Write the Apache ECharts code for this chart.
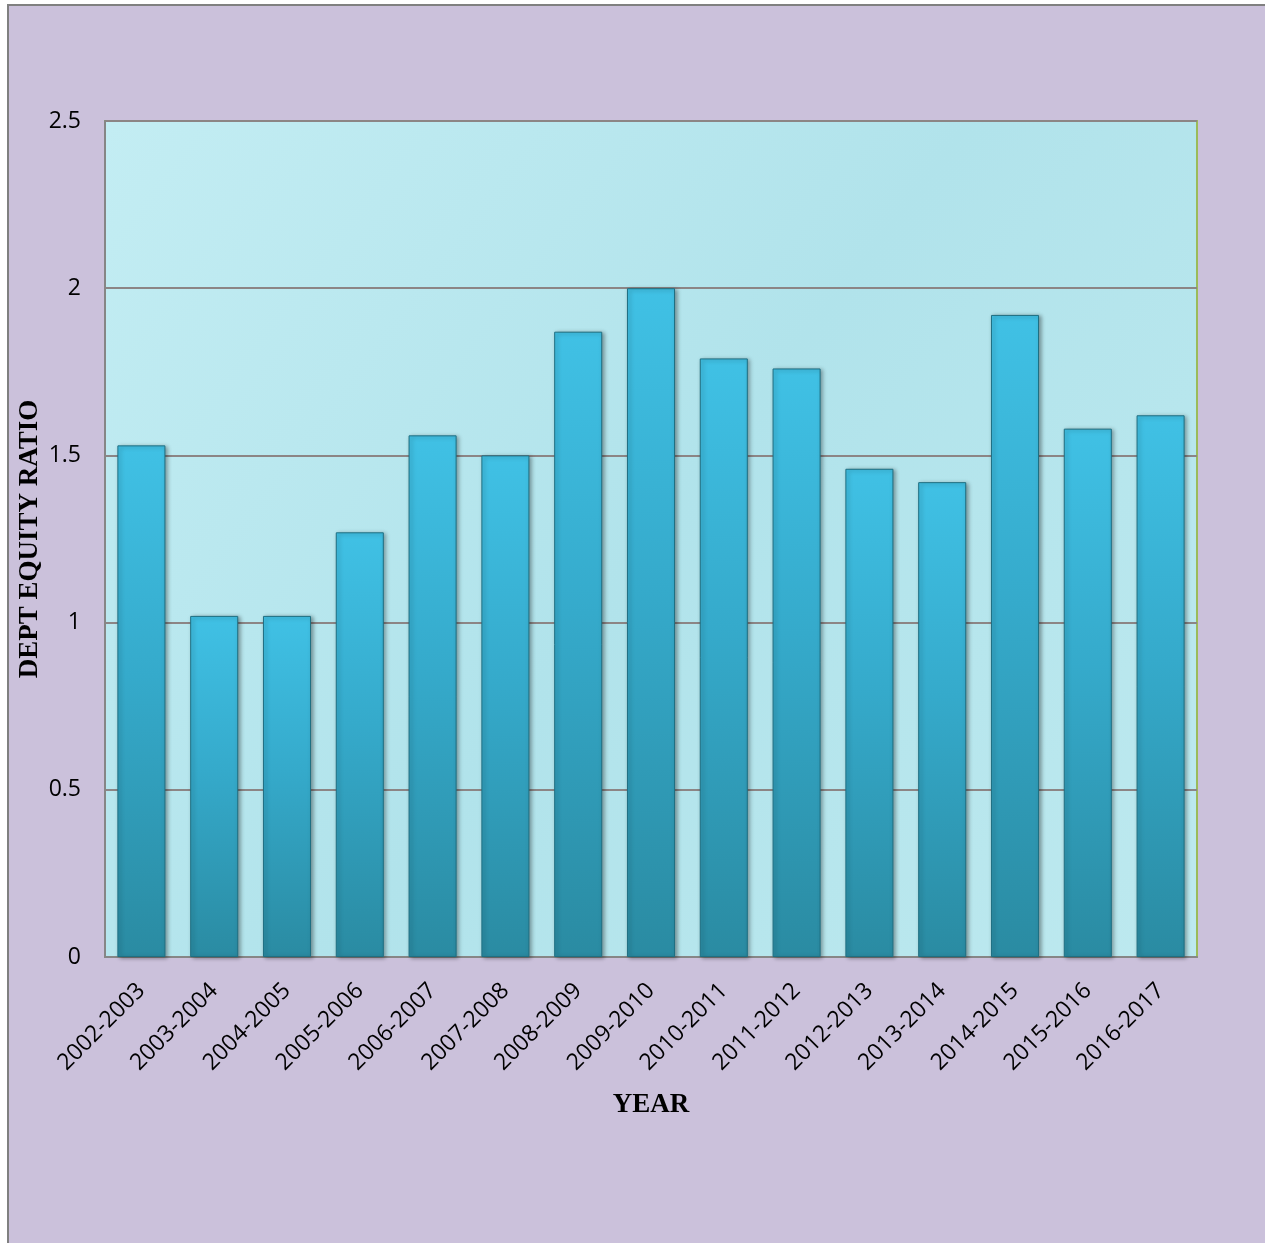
<!DOCTYPE html>
<html>
<head>
<meta charset="utf-8">
<script src="https://cdn.jsdelivr.net/npm/echarts@6/dist/echarts.min.js"></script>
<style>
  html, body { margin: 0; padding: 0; background: #ffffff; overflow: hidden; }
  #frame {
    position: absolute;
    left: 7px;
    top: 4px;
    width: 1262px;
    height: 1243px;
    border-left: 2px solid #808080;
    border-top: 2px solid #808080;
    background: #cbc1db;
  }
  #chart { width: 1258px; height: 1239px; }
</style>
</head>
<body>
<div id="frame"><div id="chart"></div></div>
<script>
const years = [
  '2002-2003', '2003-2004', '2004-2005', '2005-2006', '2006-2007',
  '2007-2008', '2008-2009', '2009-2010', '2010-2011', '2011-2012',
  '2012-2013', '2013-2014', '2014-2015', '2015-2016', '2016-2017',
]
const ratios = [1.53, 1.02, 1.02, 1.27, 1.56, 1.50, 1.87, 2.00, 1.79, 1.76, 1.46, 1.42, 1.92, 1.58, 1.62]
const yTicks = [0, 0.5, 1, 1.5, 2, 2.5]

const LABEL_FONT = "'Open Sans', 'Noto Sans', sans-serif"
const TITLE_FONT = "'Liberation Serif', 'DejaVu Serif', serif"

const chart = echarts.init(document.getElementById('chart'))

chart.setOption({
  animation: false,
  backgroundColor: 'transparent',
  grid: {
    left: 96, right: 70, top: 115, bottom: 288,
    outerBoundsMode: 'none',
    containLabel: false,
    show: true,
    backgroundColor: new echarts.graphic.LinearGradient(0, 0, 1, 1, [
      { offset: 0, color: '#c3edf3' },
      { offset: 0.5, color: '#b1e3eb' },
      { offset: 1, color: '#bde9ef' },
    ]),
    borderColor: '#9bbb59',
    borderWidth: 2,
  },
  xAxis: {
    type: 'category',
    data: years,
    name: 'YEAR',
    nameLocation: 'middle',
    nameGap: 135,
    nameTextStyle: { fontFamily: TITLE_FONT, fontWeight: 'bold', fontSize: 27, color: '#000' },
    axisLine: { lineStyle: { color: '#868686', width: 2 } },
    axisTick: { show: false },
    axisLabel: {
      interval: 0,
      rotate: 45,
      margin: 30,
      fontFamily: LABEL_FONT,
      fontSize: 23,
      color: '#000',
    },
  },
  yAxis: {
    type: 'value',
    min: yTicks[0],
    max: yTicks[yTicks.length - 1],
    interval: 0.5,
    name: 'DEPT EQUITY RATIO',
    nameLocation: 'middle',
    nameRotate: 90,
    nameGap: 61,
    nameMoveOverlap: false,
    nameTextStyle: { fontFamily: TITLE_FONT, fontWeight: 'bold', fontSize: 27, color: '#000' },
    axisLine: { show: true, lineStyle: { color: '#868686', width: 2 } },
    axisTick: { show: false },
    axisLabel: {
      margin: 24,
      fontFamily: LABEL_FONT,
      fontSize: 23,
      color: '#000',
    },
    splitLine: { lineStyle: { color: '#8c8585', width: 2 } },
  },
  series: [{
    type: 'bar',
    data: ratios,
    barWidth: '66%',
    itemStyle: {
      color: new echarts.graphic.LinearGradient(0, 0, 0, 1, [
        { offset: 0, color: '#40c1e5' },
        { offset: 0.45, color: '#35aacb' },
        { offset: 1, color: '#2a8ba2' },
      ]),
      borderColor: '#1f6f82',
      borderWidth: 1,
      shadowColor: 'rgba(0, 0, 0, 0.35)',
      shadowBlur: 4,
      shadowOffsetX: 2,
      shadowOffsetY: 1,
    },
  }],
})
</script>
</body>
</html>
